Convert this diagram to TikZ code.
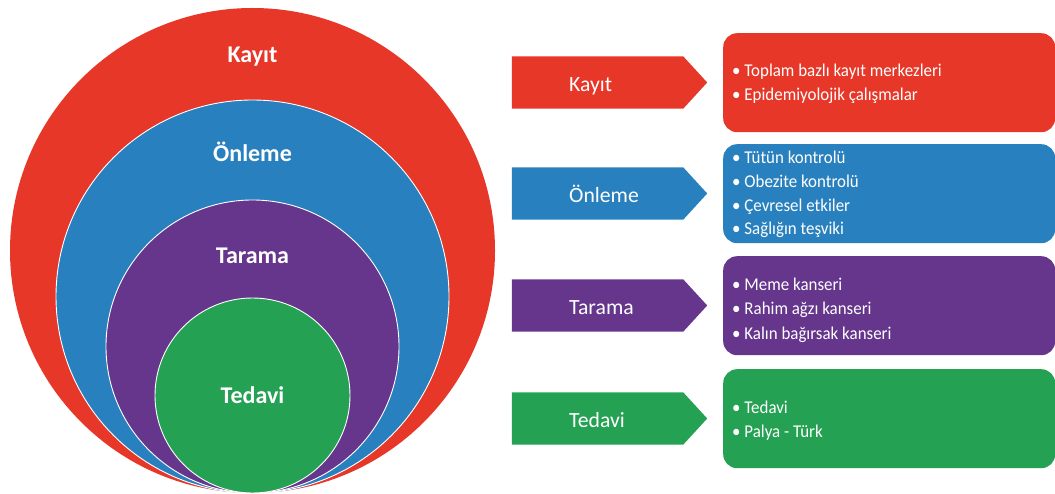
\documentclass[tikz,border=0pt]{standalone}
\usepackage{fontspec}
\setmainfont{Carlito}
\newfontfamily\itemfont[FakeStretch=0.94]{Carlito}
\definecolor{kred}{RGB}{230,55,40}
\definecolor{kblue}{RGB}{41,128,190}
\definecolor{kpurple}{RGB}{101,54,139}
\definecolor{kgreen}{RGB}{36,161,82}
\begin{document}
\begin{tikzpicture}[x=1pt,y=-1pt,
  ring/.style={circle, inner sep=0pt, draw=white, line width=0.9pt},
  ringlabel/.style={text=white, inner sep=0pt, anchor=base, font=\bfseries\fontsize{24}{28}\selectfont},
  arrowbox/.style={inner sep=0pt, minimum width=171pt, minimum height=52pt},
  tag/.style={text=white, anchor=base west, inner sep=0pt, font=\fontsize{21.7}{26}\selectfont},
  panel/.style={rounded corners=14pt, minimum width=332pt, minimum height=99pt, anchor=north west, inner sep=0pt},
  item/.style={text=white, anchor=base west, inner sep=0pt, font=\itemfont\fontsize{18}{24}\selectfont}]
\useasboundingbox (0,0) rectangle (1055,494);

% nested circles
\node[circle, inner sep=0pt, fill=kred, minimum size=485pt] (c1) at (252.5,250.5) {};
\node[ring, fill=kblue, minimum size=393pt] (c2) at (252.5,296.5) {};
\node[ring, fill=kpurple, minimum size=293pt] (c3) at (252.5,346.5) {};
\node[ring, fill=kgreen, minimum size=195pt] (c4) at (252.5,395.5) {};
\node[ringlabel] (l1) at (252.5,62.7) {Kayıt};
\node[ringlabel] (l2) at (252.5,162) {Önleme};
\node[ringlabel] (l3) at (252.5,264) {Tarama};
\node[ringlabel] (l4) at (252.5,403) {Tedavi};

% arrows
\foreach \n/\y/\c in {1/82.5/kred, 2/193.5/kblue, 3/305.5/kpurple, 4/418.5/kgreen}{
  \node[arrowbox] (a\n) at (597.5,\y) {};
  \fill[\c] (a\n.north west) -- (a\n.north east) -- ([xshift=24pt]a\n.east) -- (a\n.south east) -- (a\n.south west) -- cycle;
}
\node[tag] (t1) at (569,91.7) {Kayıt};
\node[tag] (t2) at (569,202.7) {Önleme};
\node[tag] (t3) at (569,314.7) {Tarama};
\node[tag] (t4) at (569,427.7) {Tedavi};

% panels
\node[panel, fill=kred] (p1) at (723,33) {};
\node[panel, fill=kblue] (p2) at (723,144) {};
\node[panel, fill=kpurple] (p3) at (723,256) {};
\node[panel, fill=kgreen] (p4) at (723,369) {};

\node[item] (i11) at (732,76.7) {• Toplam bazlı kayıt merkezleri};
\node[item] (i12) at (732,100.7) {• Epidemiyolojik çalışmalar};

\node[item] (i21) at (732,164) {• Tütün kontrolü};
\node[item] (i22) at (732,187.7) {• Obezite kontrolü};
\node[item] (i23) at (732,211.4) {• Çevresel etkiler};
\node[item] (i24) at (732,235) {• Sağlığın teşviki};

\node[item] (i31) at (732,291) {• Meme kanseri};
\node[item] (i32) at (732,315) {• Rahim ağzı kanseri};
\node[item] (i33) at (732,339) {• Kalın bağırsak kanseri};

\node[item] (i41) at (732,413) {• Tedavi};
\node[item] (i42) at (732,437) {• Palya - Türk};
\end{tikzpicture}
\end{document}
